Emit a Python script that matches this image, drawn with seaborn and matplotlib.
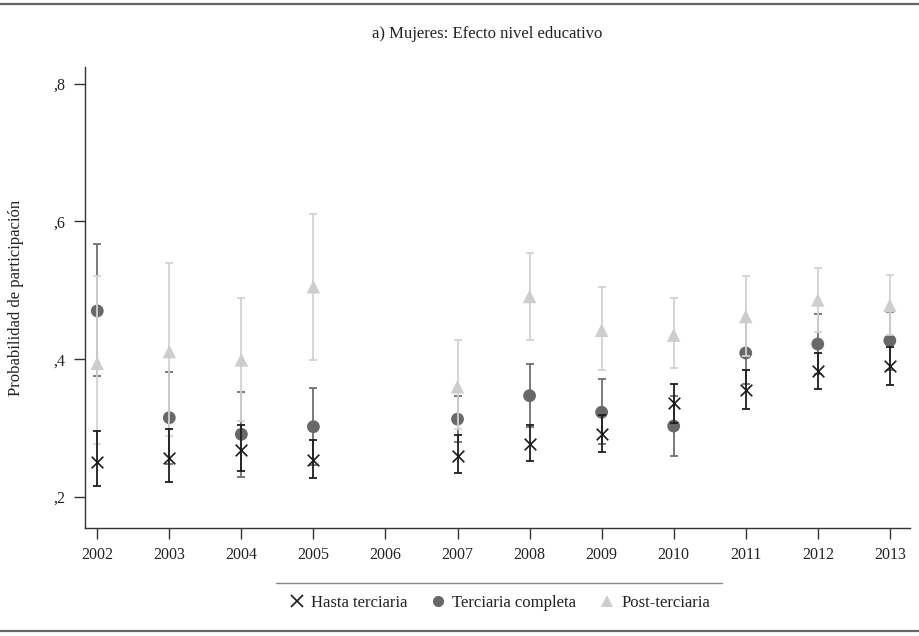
import matplotlib
matplotlib.use("Agg")
import matplotlib.pyplot as plt
from matplotlib.lines import Line2D
from matplotlib.ticker import FixedLocator, FixedFormatter
import seaborn as sns
import pandas as pd

# ---- data ----
years = [2002, 2003, 2004, 2005, 2007, 2008, 2009, 2010, 2011, 2012, 2013]

hasta = [0.251, 0.257, 0.268, 0.254, 0.260, 0.277, 0.292, 0.336, 0.355, 0.383, 0.390]
hasta_lo = [0.216, 0.222, 0.237, 0.228, 0.235, 0.252, 0.265, 0.308, 0.328, 0.356, 0.363]
hasta_hi = [0.296, 0.299, 0.304, 0.283, 0.290, 0.305, 0.319, 0.364, 0.385, 0.409, 0.418]

completa = [0.470, 0.315, 0.291, 0.302, 0.313, 0.347, 0.323, 0.303, 0.409, 0.422, 0.427]
completa_lo = [0.375, 0.248, 0.229, 0.246, 0.280, 0.301, 0.277, 0.260, 0.364, 0.379, 0.385]
completa_hi = [0.567, 0.382, 0.352, 0.358, 0.346, 0.393, 0.371, 0.347, 0.454, 0.465, 0.469]

post = [0.394, 0.411, 0.399, 0.505, 0.360, 0.491, 0.442, 0.435, 0.462, 0.486, 0.478]
post_lo = [0.277, 0.289, 0.311, 0.399, 0.298, 0.428, 0.384, 0.387, 0.405, 0.439, 0.435]
post_hi = [0.520, 0.539, 0.489, 0.611, 0.428, 0.554, 0.505, 0.489, 0.521, 0.533, 0.522]

series_names = ["Hasta terciaria", "Terciaria completa", "Post-terciaria"]
xtick_years = list(range(2002, 2014))
xtick_labels = [str(y) for y in xtick_years]
ytick_vals = [0.2, 0.4, 0.6, 0.8]
ytick_labels = [",2", ",4", ",6", ",8"]
title = "a) Mujeres: Efecto nivel educativo"
ylabel = "Probabilidad de participación"

# ---- build long table ----
frames = []
for name, v, lo, hi in [
    (series_names[0], hasta, hasta_lo, hasta_hi),
    (series_names[1], completa, completa_lo, completa_hi),
    (series_names[2], post, post_lo, post_hi),
]:
    frames.append(pd.DataFrame({"year": years, "value": v, "lo": lo, "hi": hi, "serie": name}))
df = pd.concat(frames, ignore_index=True)

sns.set_style("ticks")
plt.rcParams["font.family"] = ["Liberation Serif", "DejaVu Serif"]
plt.rcParams["text.color"] = "#222222"
plt.rcParams["axes.labelcolor"] = "#222222"
plt.rcParams["xtick.color"] = "#222222"
plt.rcParams["ytick.color"] = "#222222"

W, H = 920, 636
fig = plt.figure(figsize=(W / 100, H / 100), dpi=100)
ax = fig.add_axes([85 / W, 1 - 528 / H, (910 - 85) / W, (528 - 67) / H])

styles = {
    "Terciaria completa": dict(color="#686868", ecolor="#707070", marker="o", size=85, z=2),
    "Post-terciaria": dict(color="#cdcdcd", ecolor="#d2d2d2", marker="^", size=95, z=4),
    "Hasta terciaria": dict(color="#1a1a1a", ecolor="#1e1e1e", marker="x", size=70, z=6),
}

for name in ["Terciaria completa", "Post-terciaria", "Hasta terciaria"]:
    st = styles[name]
    sub = df[df["serie"] == name]
    ax.errorbar(sub["year"], sub["value"],
                yerr=[sub["value"] - sub["lo"], sub["hi"] - sub["value"]],
                fmt="none", ecolor=st["ecolor"], elinewidth=1.3, capsize=3,
                capthick=1.3, zorder=st["z"])
    kw = dict(edgecolor="none") if st["marker"] != "x" else dict(linewidth=1.2)
    sns.scatterplot(data=sub, x="year", y="value", ax=ax, color=st["color"],
                    marker=st["marker"], s=st["size"], legend=False,
                    zorder=st["z"] + 1, **kw)

ax.set_xlim(2001.83, 2013.28)
ax.set_ylim(0.155, 0.824)
ax.xaxis.set_major_locator(FixedLocator(xtick_years))
ax.xaxis.set_major_formatter(FixedFormatter(xtick_labels))
ax.yaxis.set_major_locator(FixedLocator(ytick_vals))
ax.yaxis.set_major_formatter(FixedFormatter(ytick_labels))
ax.tick_params(axis="both", length=8, width=1, labelsize=11.5, color="#333333", pad=6)
ax.set_xlabel("")
ax.set_ylabel(ylabel, fontsize=12)
ax.yaxis.set_label_coords(-0.074, 0.5)
sns.despine(ax=ax)
for sp in ["left", "bottom"]:
    ax.spines[sp].set_color("#333333")
    ax.spines[sp].set_linewidth(1)

fig.text(487 / W, 1 - 34 / H, title, ha="center", va="center", fontsize=12)

# legend
handles = [
    Line2D([], [], linestyle="", marker="x", color="#1a1a1a", markersize=8, markeredgewidth=1.2),
    Line2D([], [], linestyle="", marker="o", color="#686868", markersize=8, markeredgewidth=0),
    Line2D([], [], linestyle="", marker="^", color="#cdcdcd", markersize=8, markeredgewidth=0),
]
fig.legend(handles, series_names, loc="center", bbox_to_anchor=(499 / W, 1 - 603 / H),
           ncol=3, frameon=False, fontsize=12, handletextpad=0.35, columnspacing=1.35,
           handlelength=1.0)

fig.add_artist(Line2D([276 / W, 722 / W], [1 - 583 / H] * 2, color="#888888", lw=1))
fig.add_artist(Line2D([0, 1], [1 - 4 / H] * 2, color="#666666", lw=1.6))
fig.add_artist(Line2D([0, 1], [1 - 631 / H] * 2, color="#666666", lw=1.6))

fig.savefig("out.png", dpi=100)
